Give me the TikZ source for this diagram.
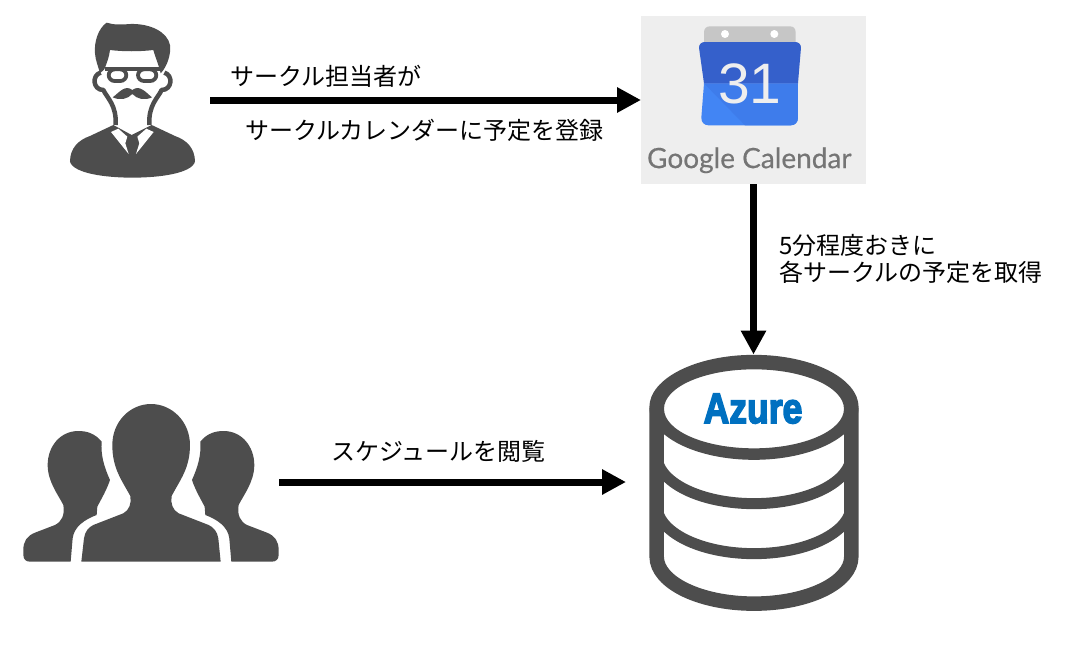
\documentclass[tikz,border=0pt]{standalone}
\usepackage{fontspec}
\usetikzlibrary{arrows.meta}
\setmainfont{Noto Sans CJK JP}
\newfontfamily\logofont[FakeBold=.4]{Lato}
\newfontfamily\digitfont{Liberation Sans}
\newfontfamily\azurefont[FakeBold=4]{Liberation Sans Bold}
\definecolor{icongray}{HTML}{4D4D4D}
\definecolor{calbox}{HTML}{EEEEEE}
\definecolor{calring}{HTML}{C6C6C6}
\definecolor{caltop}{HTML}{3560CB}
\definecolor{calbottom}{HTML}{4285F4}
\definecolor{calshade}{HTML}{3E7CEB}
\definecolor{calword}{HTML}{757575}
\definecolor{azureblue}{HTML}{0070C0}
\tikzset{
	zone/.style={inner sep=0pt,outer sep=0pt,minimum width=#1},
	caption/.style={font=\fontsize{24}{27}\selectfont,inner sep=0pt,anchor=west,align=left},
	flow/.style={line width=7pt,-{Triangle[length=24pt,width=24pt]}}
}
\newcommand{\sideperson}{
	\fill[icongray] (60,515) -- (182,515) -- (188,445) .. controls (192,410) and (225,388) .. (260,375) -- (262,350)
		.. controls (275,325) and (290,300) .. (300,270) .. controls (282,230) and (272,195) .. (275,155)
		.. controls (255,130) and (230,123) .. (205,123) .. controls (150,123) and (113,170) .. (113,225)
		.. controls (113,275) and (145,315) .. (160,345) .. controls (165,375) and (155,395) .. (135,405)
		-- (75,428) .. controls (50,438) and (40,455) .. (40,480) -- (40,495) .. controls (40,508) and (48,515) .. (60,515) -- cycle;
}
\begin{document}
\begin{tikzpicture}[x=1pt,y=-1pt,>=latex]
	\useasboundingbox (0,0) rectangle (1065,649);
	\node[zone=140pt,minimum height=160pt] (organizer) at (140,100) {};
	\node[zone=225pt,minimum height=168pt,fill=calbox] (calendar) at (753.5,100) {};
	\node[zone=256pt,minimum height=158pt] (members) at (151,482) {};
	\node[zone=209pt,minimum height=255pt] (database) at (753.5,482) {};
	\coordinate (dbentry) at (626,482);

	\begin{scope}[shift={(50,10)},x=.3333pt,y=-.3333pt]
		\fill[icongray] (60,455) .. controls (60,415) and (85,390) .. (120,378) -- (190,345) -- (245,375) -- (305,345) -- (375,378)
			.. controls (410,390) and (435,415) .. (435,455) .. controls (425,490) and (330,503) .. (247,503) .. controls (165,503) and (70,490) .. (60,455) -- cycle;
		\fill[white] (183,366) -- (205,356) -- (232,380) -- (226,400) -- (236,432) -- cycle;
		\fill[white] (311,366) -- (289,356) -- (262,380) -- (268,400) -- (258,432) -- cycle;
		\fill[icongray] (163,178) .. controls (170,160) and (178,140) .. (180,120) .. controls (220,125) and (270,125) .. (310,120)
			.. controls (315,140) and (325,160) .. (332,190) .. controls (352,170) and (364,130) .. (360,105)
			.. controls (352,65) and (300,40) .. (240,42) .. controls (215,44) and (190,45) .. (170,38)
			.. controls (145,55) and (132,95) .. (135,130) .. controls (136,150) and (145,170) .. (150,190) -- cycle;
		\draw[icongray,line width=4.5pt,line join=round] (152,188) .. controls (125,195) and (128,240) .. (160,240) .. controls (172,265) and (200,285) .. (197,345);
		\draw[icongray,line width=4.5pt,line join=round] (343,188) .. controls (370,195) and (367,240) .. (335,240) .. controls (323,265) and (295,285) .. (298,345);
		\draw[icongray,line width=3.8pt,rounded corners=6pt] (176,178) rectangle (229,213);
		\draw[icongray,line width=3.8pt,rounded corners=6pt] (264,178) rectangle (319,213);
		\draw[icongray,line width=3.8pt] (165,176) -- (330,176);
		\fill[icongray] (188,262) .. controls (205,250) and (225,222) .. (247,240) .. controls (270,222) and (290,250) .. (306,262)
			.. controls (285,272) and (262,268) .. (247,252) .. controls (232,268) and (210,272) .. (188,262) -- cycle;
	\end{scope}

	\begin{scope}[shift={(630,5)},x=.3333pt,y=-.3333pt]
		\fill[calring] (222,115) -- (222,82) .. controls (222,70) and (230,64) .. (240,64) -- (480,64) .. controls (490,64) and (497,70) .. (497,82) -- (497,115) -- cycle;
		\fill[white] (285,87) circle[radius=4pt];
		\fill[white] (433,87) circle[radius=4pt];
		\fill[calbottom] (222,235) -- (504,235) -- (504,338) .. controls (504,352) and (495,361) .. (482,361) -- (236,361) .. controls (222,361) and (214,352) .. (214,338) -- cycle;
		\fill[calshade] (222,235) -- (504,235) -- (504,338) .. controls (504,352) and (495,361) .. (482,361) -- (345,361) -- cycle;
		\fill[caltop] (207,128) .. controls (207,117) and (215,111) .. (225,111) -- (495,111) .. controls (505,111) and (513,117) .. (513,128) -- (504,235) -- (222,235) -- cycle;
		\node[text=calbox,inner sep=0pt,font=\digitfont\fontsize{57}{57}\selectfont] (caldate) at (360,236) {31};
		\node[text=calword,inner sep=0pt,font=\logofont\fontsize{28}{28}\selectfont] (calname) at (358,466) {Google Calendar};
	\end{scope}

	\begin{scope}[shift={(10,390)},x=.3333pt,y=-.3333pt]
		\sideperson
		\begin{scope}[xshift=846*.3333pt,xscale=-1]
			\sideperson
		\end{scope}
		\fill[icongray] (230,515) -- (214,515) -- (222,445) .. controls (225,425) and (235,412) .. (250,405) -- (340,370)
			.. controls (358,360) and (365,340) .. (361,318) .. controls (335,270) and (307,235) .. (307,165)
			.. controls (307,95) and (360,42) .. (423,42) .. controls (486,42) and (540,95) .. (540,165)
			.. controls (540,235) and (510,270) .. (485,318) .. controls (481,340) and (488,360) .. (506,370)
			-- (596,405) .. controls (611,412) and (622,425) .. (625,445) -- (632,515) -- cycle;
	\end{scope}

	\begin{scope}[shift={(630,340)},x=.3333pt,y=-.3333pt]
		\fill[icongray,even odd rule] (372,202) ellipse[x radius=314,y radius=157.5] (372,206.5) ellipse[x radius=270,y radius=118.5];
		\draw[icongray,line width=14.5pt] (80,205) -- (80,650) .. controls (80,728) and (211,791) .. (372,791) .. controls (533,791) and (664,728) .. (664,650) -- (664,205);
		\draw[icongray,line width=11pt] (80,345) .. controls (80,426) and (211,491) .. (372,491) .. controls (533,491) and (664,426) .. (664,345);
		\draw[icongray,line width=11pt] (80,495) .. controls (80,576) and (211,641) .. (372,641) .. controls (533,641) and (664,576) .. (664,495);
		\node[text=azureblue,inner sep=0pt,xscale=.96,yscale=1.15,font=\azurefont\fontsize{37}{37}\selectfont] (azure) at (369,206) {Azure};
	\end{scope}

	\draw[flow] (organizer.east) -- (calendar.west);
	\draw[flow] (calendar.south) -- (database.north);
	\draw[flow] (members.east) -- (dbentry);

	\node[caption] (labelregister) at (230,76) {サークル担当者が};
	\node[caption] (labeladd) at (245,130) {サークルカレンダーに予定を登録};
	\node[caption] (labelfetch) at (779,258.5) {5分程度おきに\\各サークルの予定を取得};
	\node[caption] (labelview) at (331,451) {スケジュールを閲覧};
\end{tikzpicture}
\end{document}
